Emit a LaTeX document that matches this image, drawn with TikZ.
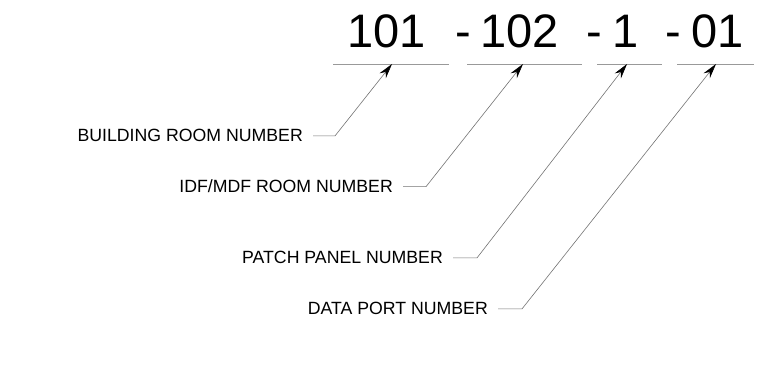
\documentclass[tikz,border=0pt]{standalone}
\usepackage{fontspec}
\setmainfont{Liberation Sans}
\usetikzlibrary{arrows.meta,positioning,calc}
\tikzset{
  bignum/.style={anchor=base west, inner sep=0pt, font=\fontsize{47}{50}\selectfont},
  tag/.style={anchor=base east, inner sep=0pt, font=\fontsize{17.7}{20}\selectfont},
  uline/.style={draw=gray!80, line width=0.9pt},
  leader/.style={draw=gray!90!black, line width=0.6pt, -{Stealth[length=15pt, width=8pt, color=black]}}
}
\begin{document}
\begin{tikzpicture}[x=1pt,y=1pt]
  \useasboundingbox (0,0) rectangle (760,380);
  % number fields
  \node[bignum] (bldg) at (347,332) {101};
  \node[bignum] (dashA) at (455,332) {-};
  \node[bignum] (idf) at (480,332) {102};
  \node[bignum] (dashB) at (586,332) {-};
  \node[bignum] (panel) at (612,332) {1};
  \node[bignum] (dashC) at (665,332) {-};
  \node[bignum] (port) at (691,332) {01};
  \draw[uline] (333,316) -- (449,316);
  \draw[uline] (467,316) -- (582,316);
  \draw[uline] (597,316) -- (662,316);
  \draw[uline] (677,316) -- (754,316);
  \coordinate (tipA) at (392,316);
  \coordinate (tipB) at (523,316);
  \coordinate (tipC) at (627,316);
  \coordinate (tipD) at (716,316);
  % labels
  \node[tag] (lblA) at (303,238) {BUILDING ROOM NUMBER};
  \node[tag] (lblB) at (393,187) {IDF/MDF ROOM NUMBER};
  \node[tag] (lblC) at (443,116) {PATCH PANEL NUMBER};
  \node[tag] (lblD) at (488,65) {DATA PORT NUMBER};
  \draw[leader] ([xshift=10pt]lblA.east) -- ++(22,0) -- (tipA);
  \draw[leader] ([xshift=10pt]lblB.east) -- ++(23,0) -- (tipB);
  \draw[leader] ([xshift=10pt]lblC.east) -- ++(24,0) -- (tipC);
  \draw[leader] ([xshift=10pt]lblD.east) -- ++(24,0) -- (tipD);
\end{tikzpicture}
\end{document}
